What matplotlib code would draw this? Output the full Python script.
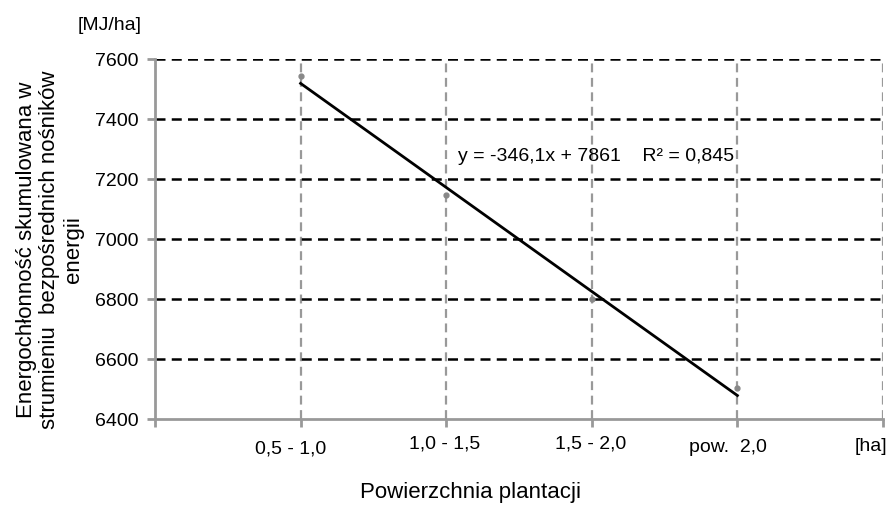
import matplotlib.pyplot as plt
import numpy as np
from matplotlib.transforms import ScaledTranslation

plt.rcParams["font.family"] = ["Liberation Sans", "DejaVu Sans"]

categories = ["0,5 - 1,0", "1,0 - 1,5", "1,5 - 2,0", "pow.  2,0"]
energy = [7543, 7148, 6800, 6503]
y_ticks = [6400, 6600, 6800, 7000, 7200, 7400, 7600]
trend_text = "y = -346,1x + 7861    R² = 0,845"


def main():
    fig = plt.figure(figsize=(8.88, 5.06), dpi=100)
    ax = fig.add_axes([155 / 888, 1 - 420 / 506, (883 - 155) / 888, 360 / 506])

    x = np.arange(1, len(categories) + 1)
    # trend line from a linear fit of the series
    a, b = np.polyfit(x, energy, 1)
    ax.plot(x, a * x + b, color="black", linewidth=2, zorder=4)
    ax.plot(x, energy, "o", color="#888888", markersize=3.5, zorder=3)

    ax.set_xlim(0, 5)
    ax.set_ylim(6400, 7600)
    ax.set_yticks(y_ticks)
    ax.set_xticks(range(0, 6))
    ax.set_xticklabels([""] + categories + [""])

    for yv in y_ticks[1:]:
        ax.axhline(yv, color="black", linestyle=(0, (4, 2.5)), linewidth=1.8, zorder=2)
    for xv in range(1, 6):
        ax.axvline(xv, color="#999999", linestyle=(0, (4, 2.5)), linewidth=1.6, zorder=1)

    for s in ["top", "right"]:
        ax.spines[s].set_visible(False)
    for s in ["left", "bottom"]:
        ax.spines[s].set_color("#999999")
        ax.spines[s].set_linewidth(2)
    ax.tick_params(axis="both", colors="#999999", width=2, length=6,
                   labelcolor="black", labelsize=14)
    ax.tick_params(axis="y", pad=6)
    ax.tick_params(axis="x", pad=6)

    # small per-label shifts like the original (points)
    shifts = [(0, 0), (-7, -3), (-1, 1), (-1, 1), (-7, -2), (0, 0)]
    for lab, (dx, dy) in zip(ax.get_xticklabels(), shifts):
        lab.set_transform(lab.get_transform() + ScaledTranslation(dx / 72, dy / 72, fig.dpi_scale_trans))

    ax.text(2.08, 7277, trend_text, fontsize=14, va="center", ha="left")
    fig.text(78 / 888, 1 - 25 / 506, "[MJ/ha]", fontsize=14, va="center", ha="left")
    fig.text(887 / 888, 1 - 447 / 506, "[ha]", fontsize=14, va="center", ha="right")
    fig.text(470 / 888, 1 - 493 / 506, "Powierzchnia plantacji", fontsize=16,
             va="center", ha="center")
    fig.text(50 / 888, 1 - 250 / 506,
             "Energochłonność skumulowana w\nstrumieniu  bezpośrednich nośników\nenergii",
             fontsize=16, rotation=90, va="center", ha="center", linespacing=1.15)

    fig.savefig("out.png", dpi=100)


if __name__ == "__main__":
    main()
